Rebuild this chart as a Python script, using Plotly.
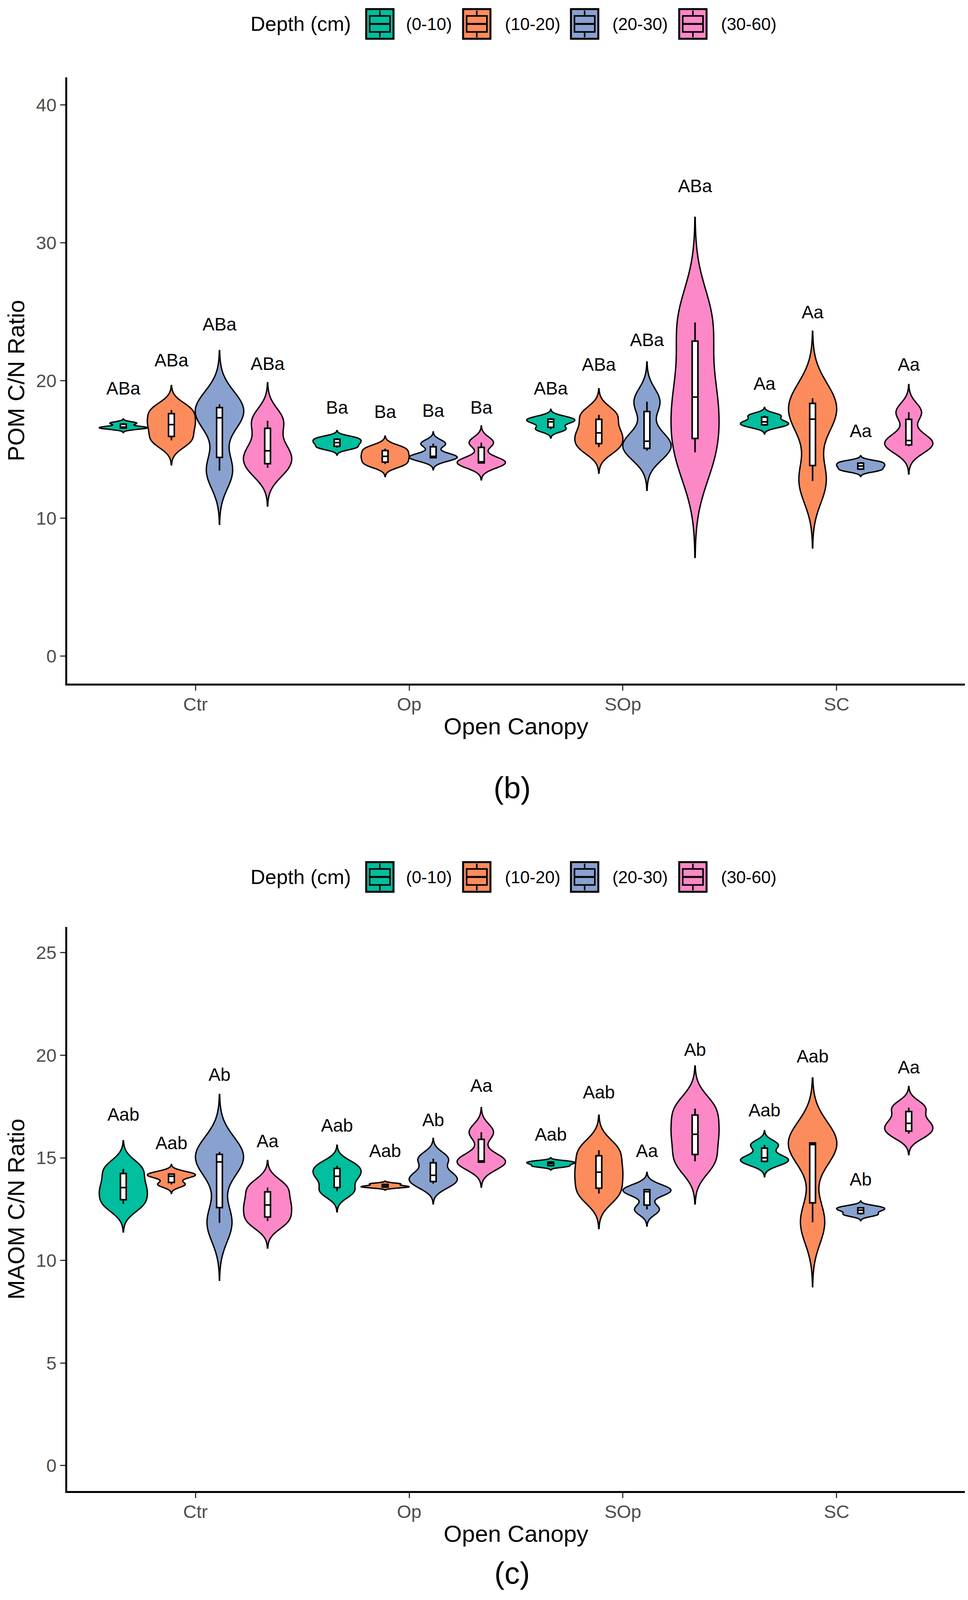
import numpy as np
import plotly.graph_objects as go

### DADOS (3 repeticoes por sitio: Ctr, Op, SOp, SC)
sites = ["Ctr", "Op", "SOp", "SC"]
depths = ["(0-10)", "(10-20)", "(20-30)", "(30-60)"]
cores = ["#00BE9E", "#FD8C5C", "#89A1CF", "#FD88C8"]

# POM C/N
pom_0_10 = [16.53, 16.62, 16.91, 15.14, 15.50, 15.82, 16.47, 17.00, 17.27, 16.72, 17.00, 17.46]
pom_10_20 = [15.66, 16.80, 17.86, 13.94, 14.50, 15.06, 15.17, 16.20, 17.51, 12.71, 17.20, 18.72]
pom_20_30 = [13.46, 17.30, 18.28, 14.37, 14.50, 15.42, 14.91, 15.60, 18.47, 13.50, 13.80, 14.08]
pom_30_60 = [13.66, 14.90, 17.08, 14.00, 14.10, 15.50, 14.79, 18.80, 24.22, 15.22, 15.65, 17.70]

# MAOM C/N
maom_0_10 = [12.76, 13.55, 14.46, 13.37, 14.10, 14.61, 14.59, 14.72, 14.82, 14.77, 15.00, 15.63]
maom_10_20 = [13.70, 14.10, 14.24, 13.56, 13.62, 13.73, 13.26, 14.30, 15.37, 11.86, 15.65, 15.75]
maom_20_30 = [11.83, 14.80, 15.29, 13.74, 14.15, 14.96, 12.48, 13.35, 13.48, 12.23, 12.45, 12.60]
maom_30_60 = [11.92, 12.70, 13.55, 14.77, 14.85, 16.25, 14.83, 16.15, 17.40, 16.18, 16.68, 17.45]

# letras e altura das letras (por profundidade, sitios na ordem)
pom_letras = [["ABa", "Ba", "ABa", "Aa"]] * 4
pom_letras_y = [[19.31, 17.91, 19.31, 19.64],
                [21.34, 17.61, 21.04, 24.84],
                [23.97, 17.70, 22.84, 16.21],
                [21.10, 17.91, 34.00, 21.04]]

maom_letras = [["Aab", "Aab", "Aab", "Aab"],
               ["Aab", "Aab", "Aab", "Aab"],
               ["Ab", "Ab", "Aa", "Ab"],
               ["Aa", "Aa", "Ab", "Aa"]]
maom_letras_y = [[17.02, 16.50, 16.05, 17.23],
                 [15.64, 15.26, 18.11, 19.87],
                 [18.97, 16.76, 15.26, 13.86],
                 [15.73, 18.43, 20.19, 19.33]]

FONTE = "Liberation Sans, Arial, sans-serif"
largura = 0.9 / 4

# janela visivel ~2477x4105, body com margem de 8px
W, H = 2461, 4090
S = 4105 / 4222  # escala vertical do layout de referencia


def px(x):
    return (x - 8) / W


def py(y):
    return 1 - (y * S - 8) / H


def bw_nrd0(v):
    # mesma regra do R (bw.nrd0)
    v = np.asarray(v)
    iqr = np.percentile(v, 75) - np.percentile(v, 25)
    return 0.9 * min(np.std(v, ddof=1), iqr / 1.34) * len(v) ** -0.2


fig = go.Figure()

paineis = [
    ([pom_0_10, pom_10_20, pom_20_30, pom_30_60], pom_letras, pom_letras_y, "x", "y"),
    ([maom_0_10, maom_10_20, maom_20_30, maom_30_60], maom_letras, maom_letras_y, "x2", "y2"),
]

for dados, letras, letras_y, xa, ya in paineis:
    for j, serie in enumerate(dados):
        off = (j - 1.5) * largura
        for i in range(len(sites)):
            vals = serie[3 * i:3 * i + 3]
            bw = bw_nrd0(vals)
            pos = i + 1 + off
            fig.add_trace(go.Violin(
                x=[pos] * len(vals), y=vals, xaxis=xa, yaxis=ya,
                name=depths[j], showlegend=False,
                width=largura, scalemode="width",
                bandwidth=bw, spanmode="manual",
                span=[min(vals) - 3 * bw, max(vals) + 3 * bw],
                fillcolor=cores[j], opacity=1,
                line=dict(color="black", width=3.5),
                points=False, hoverinfo="skip",
                box=dict(visible=True, width=0.12, fillcolor="white",
                         line=dict(color="black", width=4)),
                meanline=dict(visible=False),
            ))
        fig.add_trace(go.Scatter(
            x=[i + 1 + off for i in range(len(sites))], y=letras_y[j],
            text=letras[j], mode="text", textposition="middle center",
            textfont=dict(family=FONTE, size=46, color="black"),
            xaxis=xa, yaxis=ya, showlegend=False, hoverinfo="skip",
        ))

### LEGENDA (estilo ggplot: caixa com boxplot dentro)
formas = []
anots = []
chave_x = [937, 1185, 1461, 1738]
texto_x = [1037, 1290, 1565, 1843]
for yc in [63, 2309]:
    anots.append(dict(text="Depth (cm)", x=px(900), y=py(yc), xref="paper", yref="paper",
                      xanchor="right", yanchor="middle", showarrow=False,
                      font=dict(family=FONTE, size=52, color="black")))
    for j in range(len(depths)):
        x0 = chave_x[j]
        xm = x0 + 35
        formas.append(dict(type="rect", xref="paper", yref="paper",
                           x0=px(x0), x1=px(x0 + 70), y0=py(yc + 39), y1=py(yc - 39),
                           fillcolor=cores[j], line=dict(color="black", width=5)))
        formas.append(dict(type="line", xref="paper", yref="paper",
                           x0=px(xm), x1=px(xm), y0=py(yc - 35), y1=py(yc + 35),
                           line=dict(color="black", width=4)))
        formas.append(dict(type="rect", xref="paper", yref="paper",
                           x0=px(x0 + 9), x1=px(x0 + 61), y0=py(yc + 21), y1=py(yc - 21),
                           fillcolor=cores[j], line=dict(color="black", width=4)))
        formas.append(dict(type="line", xref="paper", yref="paper",
                           x0=px(x0 + 9), x1=px(x0 + 61), y0=py(yc), y1=py(yc),
                           line=dict(color="black", width=5)))
        anots.append(dict(text=depths[j], x=px(texto_x[j]), y=py(yc), xref="paper", yref="paper",
                          xanchor="left", yanchor="middle", showarrow=False,
                          font=dict(family=FONTE, size=44, color="black")))

anots.append(dict(text="(b)", x=px(1310), y=py(2075), xref="paper", yref="paper",
                  xanchor="center", yanchor="middle",
                  showarrow=False, font=dict(family=FONTE, size=78, color="black")))
anots.append(dict(text="(c)", x=px(1310), y=py(4142), xref="paper", yref="paper",
                  xanchor="center", yanchor="middle",
                  showarrow=False, font=dict(family=FONTE, size=78, color="black")))

eixo_x = dict(range=[0.4, 4.6], tickvals=[1, 2, 3, 4], ticktext=sites,
              showgrid=False, zeroline=False, showline=True, linecolor="black",
              linewidth=5, ticks="outside", ticklen=13, tickwidth=3,
              tickcolor="#333333", tickfont=dict(family=FONTE, size=47, color="#4D4D4D"),
              ticklabelstandoff=-6, domain=[px(172), px(2469)])
eixo_y = dict(showgrid=False, zeroline=False, showline=True, linecolor="black",
              linewidth=5, ticks="outside", ticklen=13, tickwidth=3,
              tickcolor="#333333", tickfont=dict(family=FONTE, size=47, color="#4D4D4D"))

fig.update_layout(
    width=W, height=H,
    margin=dict(l=0, r=0, t=0, b=0),
    paper_bgcolor="white", plot_bgcolor="white",
    violinmode="overlay", showlegend=False,
    font=dict(family=FONTE, color="black"),
    xaxis=dict(eixo_x, anchor="y",
               title=dict(text="Open Canopy", font=dict(size=60, color="black"), standoff=12)),
    xaxis2=dict(eixo_x, anchor="y2",
                title=dict(text="Open Canopy", font=dict(size=60, color="black"), standoff=12)),
    yaxis=dict(eixo_y, range=[-2, 42], tickvals=[0, 10, 20, 30, 40], anchor="x",
               domain=[py(1800), py(204)],
               title=dict(text="POM C/N Ratio", font=dict(size=60, color="black"), standoff=22)),
    yaxis2=dict(eixo_y, range=[-1.25, 26.25], tickvals=[0, 5, 10, 15, 20, 25], anchor="x2",
                domain=[py(3926), py(2441)],
                title=dict(text="MAOM C/N Ratio", font=dict(size=60, color="black"), standoff=22)),
    shapes=formas,
    annotations=anots,
)

fig.write_html("out.html")
